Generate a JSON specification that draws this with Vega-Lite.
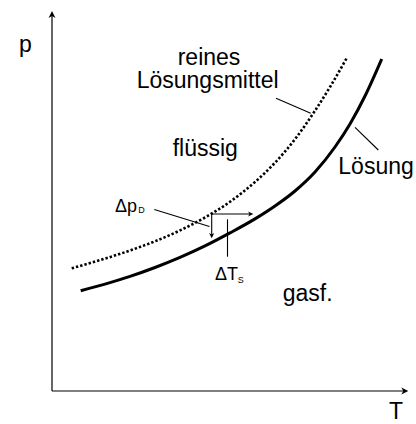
{
  "$schema": "https://vega.github.io/schema/vega-lite/v6.json",
  "width": 416,
  "height": 424,
  "autosize": {"type": "none"},
  "padding": 0,
  "config": {"view": {"stroke": null}, "text": {"font": "Liberation Sans", "color": "#000"}},
  "datasets": {
    "solution": [
      {"T": 28.7, "p": 100.3}, {"T": 53, "p": 106.9}, {"T": 78, "p": 114.6}, {"T": 103, "p": 123.5},
      {"T": 128, "p": 133.6}, {"T": 153, "p": 145.1}, {"T": 178, "p": 158.1}, {"T": 203, "p": 172.1},
      {"T": 223, "p": 185}, {"T": 243, "p": 200}, {"T": 263, "p": 219}, {"T": 283, "p": 244},
      {"T": 298, "p": 267}, {"T": 313, "p": 295}, {"T": 329.7, "p": 332}
    ],
    "solvent": [
      {"T": 19.7, "p": 122.7}, {"T": 48, "p": 130.9}, {"T": 78, "p": 140.5}, {"T": 103, "p": 149.7},
      {"T": 128, "p": 160.6}, {"T": 153, "p": 173.5}, {"T": 178, "p": 189.2}, {"T": 203, "p": 209},
      {"T": 223, "p": 228.3}, {"T": 243, "p": 251.8}, {"T": 263, "p": 280.3}, {"T": 278, "p": 304},
      {"T": 294.5, "p": 332.5}
    ],
    "axes": [
      {"T": 0, "p": 0, "T2": 0, "p2": 377},
      {"T": 0, "p": 0, "T2": 354, "p2": 0}
    ],
    "segments": [
      {"T": 224, "p": 292.7, "T2": 258.7, "p2": 277.7},
      {"T": 303, "p": 263.7, "T2": 326.3, "p2": 241},
      {"T": 102.3, "p": 181.5, "T2": 157.5, "p2": 164.5},
      {"T": 159.7, "p": 177, "T2": 159.7, "p2": 155},
      {"T": 159.7, "p": 177, "T2": 199, "p2": 177},
      {"T": 175.5, "p": 171.7, "T2": 175.5, "p2": 134.3}
    ],
    "heads": [
      {"T": 0, "p": 380, "dir": "up", "kind": "axis"},
      {"T": 356.3, "p": 0, "dir": "right", "kind": "axis"},
      {"T": 159.7, "p": 152.7, "dir": "down", "kind": "delta"},
      {"T": 201.3, "p": 177, "dir": "right", "kind": "delta"}
    ],
    "labels": [
      {"label": "p", "T": -33, "p": 339.3, "role": "big"},
      {"label": "T", "T": 337, "p": -28, "role": "big"},
      {"label": "reines", "T": 125.7, "p": 326.5, "role": "big"},
      {"label": "Lösungsmittel", "T": 84.7, "p": 302.7, "role": "big"},
      {"label": "flüssig", "T": 120.7, "p": 235, "role": "big"},
      {"label": "Lösung", "T": 286.3, "p": 217, "role": "big"},
      {"label": "gasf.", "T": 230.7, "p": 90, "role": "big"},
      {"label": "Δp", "T": 63, "p": 179.3, "role": "delta"},
      {"label": "ΔT", "T": 163, "p": 111, "role": "delta"},
      {"label": "D", "T": 86.3, "p": 177.7, "role": "sub"},
      {"label": "S", "T": 185.7, "p": 107.7, "role": "sub"}
    ]
  },
  "encoding": {
    "x": {"field": "T", "type": "quantitative", "scale": {"domain": [-52, 364], "nice": false, "zero": false}, "axis": null},
    "y": {"field": "p", "type": "quantitative", "scale": {"domain": [-33, 391], "nice": false, "zero": false}, "axis": null}
  },
  "layer": [
    {
      "data": {"name": "axes"},
      "mark": {"type": "rule", "color": "#000", "strokeWidth": 1.2},
      "encoding": {"x2": {"field": "T2"}, "y2": {"field": "p2"}}
    },
    {
      "data": {"name": "segments"},
      "mark": {"type": "rule", "color": "#000", "strokeWidth": 1.1},
      "encoding": {"x2": {"field": "T2"}, "y2": {"field": "p2"}}
    },
    {
      "data": {"name": "solution"},
      "mark": {"type": "line", "color": "#000", "strokeWidth": 3, "interpolate": "monotone"}
    },
    {
      "data": {"name": "solvent"},
      "mark": {"type": "line", "color": "#000", "strokeWidth": 2.6, "strokeDash": [2.4, 2], "interpolate": "monotone"}
    },
    {
      "data": {"name": "heads"},
      "transform": [{"filter": "datum.dir === 'up'"}],
      "mark": {"type": "point", "filled": true, "opacity": 1, "color": "#000", "size": 100, "shape": "M0,0L0.7,1.4L0,1L-0.7,1.4Z"}
    },
    {
      "data": {"name": "heads"},
      "transform": [{"filter": "datum.dir === 'right' && datum.kind === 'axis'"}],
      "mark": {"type": "point", "filled": true, "opacity": 1, "color": "#000", "size": 100, "shape": "M0,0L-1.4,-0.7L-1,0L-1.4,0.7Z"}
    },
    {
      "data": {"name": "heads"},
      "transform": [{"filter": "datum.dir === 'right' && datum.kind === 'delta'"}],
      "mark": {"type": "point", "filled": true, "opacity": 1, "color": "#000", "size": 55, "shape": "M0,0L-1.4,-0.7L-1,0L-1.4,0.7Z"}
    },
    {
      "data": {"name": "heads"},
      "transform": [{"filter": "datum.dir === 'down'"}],
      "mark": {"type": "point", "filled": true, "opacity": 1, "color": "#000", "size": 55, "shape": "M0,0L-0.7,-1.4L0,-1L0.7,-1.4Z"}
    },
    {
      "data": {"name": "labels"},
      "transform": [{"filter": "datum.role === 'big'"}],
      "mark": {"type": "text", "fontSize": 23, "align": "left", "baseline": "alphabetic"},
      "encoding": {"text": {"field": "label"}}
    },
    {
      "data": {"name": "labels"},
      "transform": [{"filter": "datum.role === 'delta'"}],
      "mark": {"type": "text", "fontSize": 18, "align": "left", "baseline": "alphabetic"},
      "encoding": {"text": {"field": "label"}}
    },
    {
      "data": {"name": "labels"},
      "transform": [{"filter": "datum.role === 'sub'"}],
      "mark": {"type": "text", "fontSize": 9, "align": "left", "baseline": "alphabetic"},
      "encoding": {"text": {"field": "label"}}
    }
  ]
}
